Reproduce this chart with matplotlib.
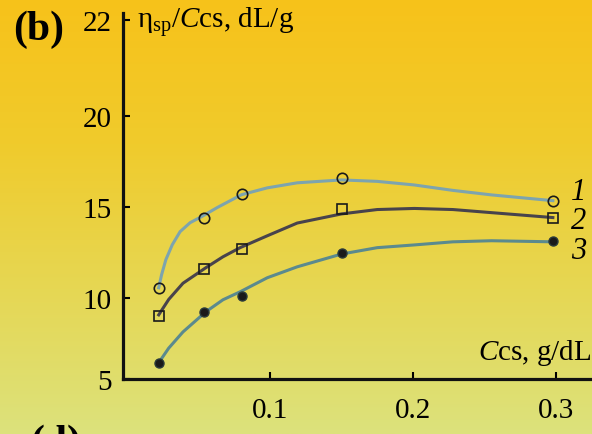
import matplotlib.pyplot as plt
import matplotlib.colors as mcolors
import numpy as np

plt.rcParams['font.family'] = ['Liberation Serif', 'DejaVu Serif']
plt.rcParams['mathtext.fontset'] = 'custom'
plt.rcParams['mathtext.rm'] = 'Liberation Serif'
plt.rcParams['mathtext.it'] = 'Liberation Serif:italic'

# measured points (C_cs, g/dL ; eta_sp/C_cs, dL/g)
x_pts = [0.022, 0.054, 0.080, 0.150, 0.298]
y1_pts = [10.55, 14.4, 15.7, 16.6, 15.3]
y2_pts = [8.9, 11.6, 12.65, 14.85, 14.4]
y3_pts = [6.0, 9.1, 10.1, 12.45, 13.1]

# fitted curves
x1_fit = [0.022, 0.024, 0.027, 0.0315, 0.037, 0.044, 0.052, 0.063, 0.080,
          0.098, 0.119, 0.150, 0.175, 0.201, 0.228, 0.255, 0.298]
y1_fit = [10.55, 11.26, 12.09, 12.91, 13.63, 14.12, 14.45, 14.95, 15.66,
          16.04, 16.32, 16.48, 16.4, 16.2, 15.9, 15.65, 15.33]
x23_fit = [0.022, 0.029, 0.039, 0.055, 0.067, 0.079, 0.098, 0.119, 0.150,
           0.175, 0.201, 0.228, 0.255, 0.298]
y2_fit = [8.95, 9.9, 10.8, 11.65, 12.25, 12.75, 13.4, 14.1, 14.6,
          14.84, 14.9, 14.84, 14.67, 14.4]
y3_fit = [6.0, 6.9, 7.9, 9.14, 9.88, 10.33, 11.1, 11.7, 12.4,
          12.75, 12.9, 13.07, 13.13, 13.07]

curve_labels = ['1', '2', '3']
label_y = [15.85, 14.25, 12.6]

yticks = [5, 10, 15, 20, 22]

# non-uniform vertical axis of the original (compressed below 10, stretched above 20)
scale_vals = [5, 10, 15, 20, 22, 23]
scale_pos = [0, 81, 172, 262, 358, 406]


def fwd(v):
    return np.interp(v, scale_vals, scale_pos)


def inv(p):
    return np.interp(p, scale_pos, scale_vals)


fig = plt.figure(figsize=(5.92, 4.35), dpi=100)

# background gradient
bg = fig.add_axes([0, 0, 1, 1], zorder=-10)
cmap = mcolors.LinearSegmentedColormap.from_list(
    'bg', ['#F7C21A', '#F0CB2C', '#E6D753', '#DCE27C'])
bg.imshow(np.linspace(0, 1, 256).reshape(-1, 1), aspect='auto', cmap=cmap,
          extent=[0, 1, 0, 1])
bg.axis('off')

ax = fig.add_axes([123 / 592, 1 - 380 / 435, 467 / 592, 366 / 435])
ax.patch.set_alpha(0)
ax.set_yscale('function', functions=(fwd, inv))
ax.set_xlim(-0.003, 0.324)
ax.set_ylim(5, 22.15)

c1 = '#7DA4AE'
c2 = '#48434C'
c3 = '#5B8A8E'

ax.plot(x1_fit, y1_fit, color=c1, lw=2.2, zorder=2, solid_joinstyle='round')
ax.plot(x23_fit, y2_fit, color=c2, lw=2.2, zorder=2, solid_joinstyle='round')
ax.plot(x23_fit, y3_fit, color=c3, lw=2.2, zorder=2, solid_joinstyle='round')

ax.plot(x_pts, y1_pts, 'o', ms=7.5, mfc='none', mec='#1a1a1a', mew=1.2, zorder=3)
ax.plot(x_pts, y2_pts, 's', ms=7.5, mfc='none', mec='#1a1a1a', mew=1.2, zorder=3)
ax.plot(x_pts, y3_pts, 'o', ms=6.5, mfc='#1a1a1a', mec='#2a3a3a', mew=1, zorder=3)

for lab, yy in zip(curve_labels, label_y):
    ax.text(0.316, yy, lab, fontsize=22, style='italic', ha='center', va='center')

for s in ['top', 'right']:
    ax.spines[s].set_visible(False)
for s in ['left', 'bottom']:
    ax.spines[s].set_linewidth(2.3)
    ax.spines[s].set_color('#111111')

ax.set_yticks(yticks)
ax.set_yticklabels([str(t) for t in yticks])
ax.set_xticks([0.1, 0.2, 0.3])
ax.set_xticklabels(['0.1', '0.2', '0.3'])
ax.minorticks_off()
ax.tick_params(axis='y', direction='in', length=5, width=1.5, labelsize=21, pad=8)
ax.tick_params(axis='x', direction='in', length=5, width=1.5, labelsize=21, pad=13)

fig.text(137 / 592, 1 - 22 / 435, r'η$_\mathrm{sp}$/$C$cs, dL/g', fontsize=21,
         va='center', ha='left')
fig.text(591 / 592, 1 - 353 / 435, r'$C\mathrm{cs}$, g/dL', fontsize=21,
         va='center', ha='right')

fig.text(13 / 592, 1 - 30 / 435, '(b)', fontsize=30, fontweight='bold',
         va='center', ha='left')
fig.text(30 / 592, 1 - 425 / 435, '(d)', fontsize=30, fontweight='bold',
         va='top', ha='left')

fig.savefig('out.png', dpi=100)
